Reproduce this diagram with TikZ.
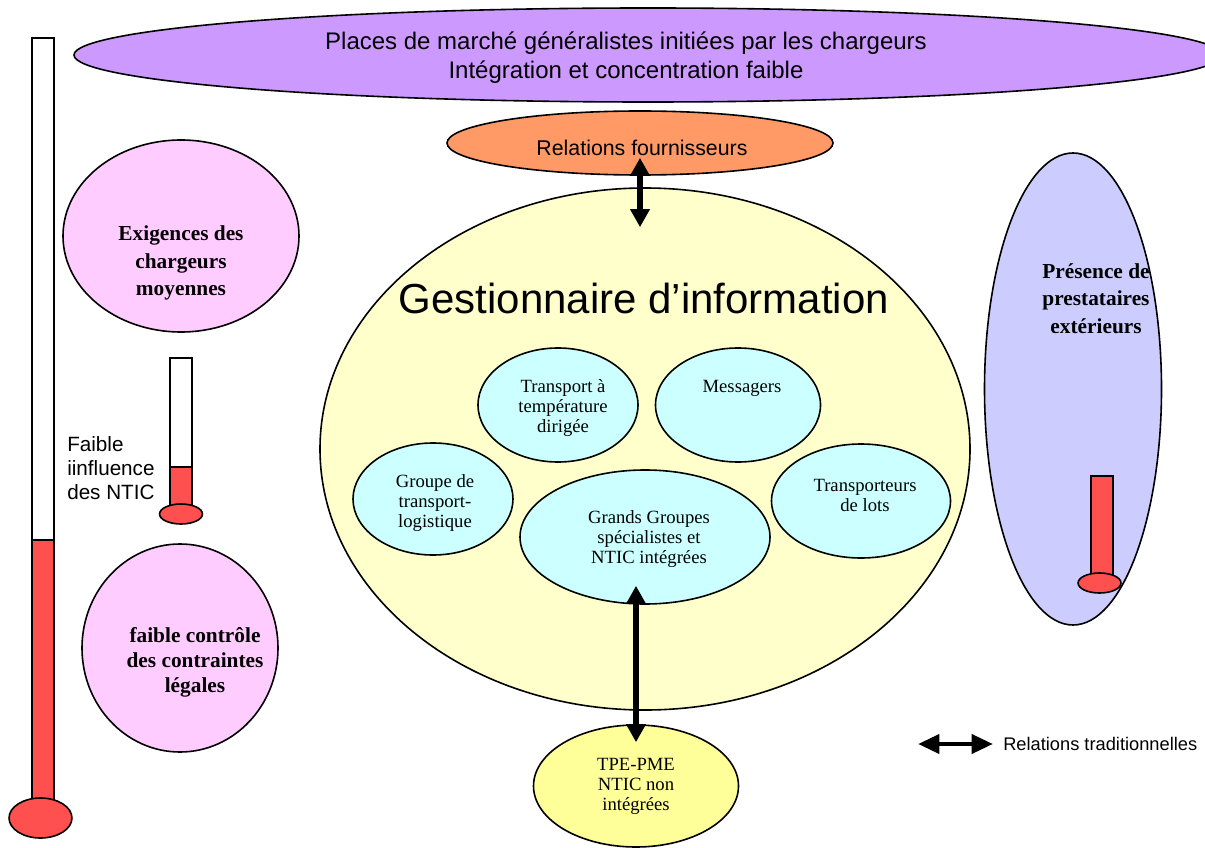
\documentclass[tikz,border=0pt]{standalone}
\usepackage{fontspec}
\setmainfont{Liberation Serif}
\setsansfont{Liberation Sans}
\usetikzlibrary{shapes.geometric,arrows.meta}

\definecolor{mauve}{HTML}{CC99FF}
\definecolor{saumon}{HTML}{FF9966}
\definecolor{creme}{HTML}{FFFFCC}
\definecolor{ciel}{HTML}{CCFFFF}
\definecolor{rose}{HTML}{FFCCFF}
\definecolor{lavande}{HTML}{CCCCFF}
\definecolor{paille}{HTML}{FFFF99}
\definecolor{mercure}{HTML}{FF5050}

\begin{document}
\begin{tikzpicture}[x=0.75pt,y=-0.75pt,
  blob/.style={ellipse, draw=black, line width=1.2pt, inner sep=0pt},
  acteur/.style={blob, fill=ciel},
  sanstxt/.style={align=center, inner sep=0pt, font=\sffamily},
  servtxt/.style={align=center, inner sep=0pt, font=\fontsize{14}{15}\selectfont},
  forcetxt/.style={align=center, inner sep=0pt, font=\bfseries\fontsize{16}{20.5}\selectfont},
  tube/.style={draw=black, line width=1.2pt},
  twoway/.style={line width=4pt,
    {Triangle[width=14pt,length=13.5pt]}-{Triangle[width=14pt,length=13.5pt]}}
]
\useasboundingbox (0,0) rectangle (1205,848);

% --- market place banner
\node[blob, fill=mauve, minimum width=861pt, minimum height=70.5pt] (market) at (648,55) {};
\node[sanstxt, font=\sffamily\fontsize{18}{21.75}\selectfont] (markettxt) at (626,57.5)
  {Places de marché généralistes initiées par les chargeurs\\Intégration et concentration faible};

% --- supplier relations
\node[blob, fill=saumon, minimum width=289.5pt, minimum height=48pt] (rf) at (640,143) {};
\node[sanstxt, font=\sffamily\fontsize{16}{19}\selectfont] (rftxt) at (642,148) {Relations fournisseurs};

% --- information manager
\node[blob, fill=creme, minimum width=487.5pt, minimum height=391.5pt] (gest) at (645,449) {};
\node[sanstxt, font=\sffamily\fontsize{31.5}{36}\selectfont] (gesttxt) at (644,298) {Gestionnaire d’information};

% --- carriers inside the information manager
\node[acteur, minimum width=120pt, minimum height=85.5pt] (temp) at (558,405) {};
\node[servtxt] (temptxt) at (563,408) {Transport à\\température\\dirigée};

\node[acteur, minimum width=123.75pt, minimum height=85.5pt] (msg) at (738,405) {};
\node[servtxt] (msgtxt) at (742,388) {Messagers};

\node[acteur, minimum width=120pt, minimum height=84pt] (grp) at (433,499) {};
\node[servtxt] (grptxt) at (435,503) {Groupe de\\transport-\\logistique};

\node[acteur, minimum width=134.25pt, minimum height=85.5pt] (lots) at (861,501) {};
\node[servtxt] (lotstxt) at (865,495) {Transporteurs\\de lots};

\node[acteur, minimum width=187.5pt, minimum height=100.5pt] (gg) at (645,537) {};
\node[servtxt] (ggtxt) at (649,539) {Grands Groupes\\spécialistes et\\NTIC intégrées};

% --- small firms
\node[blob, fill=paille, minimum width=153.75pt, minimum height=91.5pt] (tpe) at (636,786) {};
\node[servtxt] (tpetxt) at (636,786) {TPE-PME\\NTIC non\\intégrées};

% --- environment forces
\node[blob, fill=rose, minimum width=177pt, minimum height=144pt] (exi) at (181,236) {};
\node[forcetxt] (exitxt) at (181,263) {Exigences des\\chargeurs\\moyennes};

\node[blob, fill=rose, minimum width=147pt, minimum height=156pt] (fc) at (180,648) {};
\node[forcetxt, font=\bfseries\fontsize{16}{18.75}\selectfont] (fctxt) at (195,662)
  {faible contrôle\\des contraintes\\légales};

\node[blob, fill=lavande, minimum width=132.75pt, minimum height=354pt] (pres) at (1073,389) {};
\node[forcetxt] (prestxt) at (1096,298.5) {Présence de\\prestataires\\extérieurs};

% --- thermometers
% large gauge on the left
\fill[white] (32,38) rectangle (54,540);
\fill[mercure] (32,540) rectangle (54,805);
\draw[tube] (32,805) -- (32,38) -- (54,38) -- (54,805);
\draw[tube] (32,540) -- (54,540);
\filldraw[tube, fill=mercure] (40.5,818) ellipse [x radius=23.6pt, y radius=15pt];

% small gauge next to the NTIC note
\fill[white] (170,358) rectangle (192,467);
\fill[mercure] (170,467) rectangle (192,510);
\draw[tube] (170,510) -- (170,358) -- (192,358) -- (192,510);
\draw[tube] (170,467) -- (192,467);
\filldraw[tube, fill=mercure] (181,514) ellipse [x radius=16.1pt, y radius=7.5pt];

\node[anchor=west, align=left, inner sep=0pt, font=\sffamily\fontsize{15.5}{18}\selectfont]
  (ntic) at (67,468) {Faible\\iinfluence\\des NTIC};

% full gauge inside the outside providers
\filldraw[tube, fill=mercure] (1091,476) rectangle (1113,585);
\filldraw[tube, fill=mercure] (1099.5,583) ellipse [x radius=16.1pt, y radius=7.5pt];

% --- traditional relations
\draw[twoway, shorten <=-13.5pt, shorten >=-30pt] (rf.south) -- (rf.south |- gest.north);
\draw[twoway, shorten <=-14.25pt, shorten >=-13.5pt] (tpe.north |- gg.south) -- (tpe.north);

% --- legend
\node[anchor=west, inner sep=0pt, font=\sffamily\fontsize{13.7}{16}\selectfont]
  (legtxt) at (1003,744) {Relations traditionnelles};
\coordinate (legL) at (918,744);
\draw[line width=3.5pt, {Triangle[width=14pt,length=16pt]}-{Triangle[width=14pt,length=16pt]},
  shorten >=7.5pt] (legL) -- (legtxt.west);
\end{tikzpicture}
\end{document}
